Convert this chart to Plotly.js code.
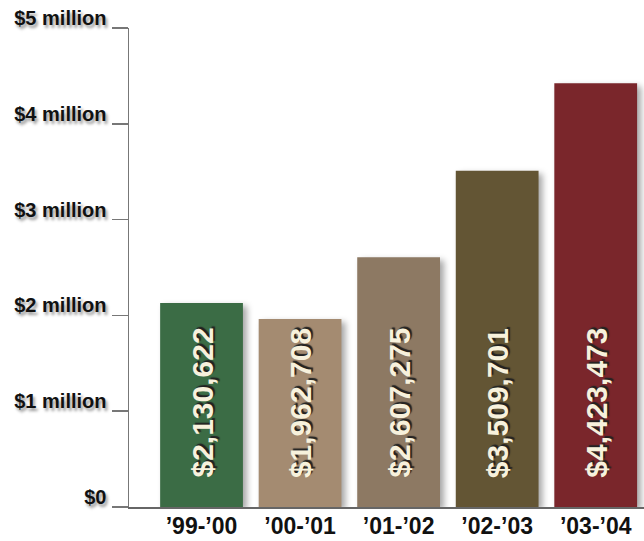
<!DOCTYPE html>
<html>
<head>
<meta charset="utf-8">
<script src="https://cdn.plot.ly/plotly-3.0.1.min.js"></script>
<style>
html,body{margin:0;padding:0;background:#fff;}
#chart{width:644px;height:541px;}
.trace.bars .point path{filter:drop-shadow(4px 3px 3px rgba(0,0,0,0.35));}
</style>
</head>
<body>
<div id="chart"></div>
<script>
const categories = ["\u201999-\u201900", "\u201900-\u201901", "\u201901-\u201902", "\u201902-\u201903", "\u201903-\u201904"];
const values = [2130622, 1962708, 2607275, 3509701, 4423473];
const barColors = ["#3b6c45", "#a48b71", "#8d7963", "#635534", "#7a262b"];
const yTickVals = [0, 1000000, 2000000, 3000000, 4000000, 5000000];
const yTickText = ["$0", "$1 million", "$2 million", "$3 million", "$4 million", "$5 million"];

const xPos = categories.map((c, i) => i);
const labels = values.map(v => "$" + v.toLocaleString("en-US"));

const trace = {
  type: "bar",
  x: xPos,
  y: values,
  width: 0.84,
  marker: {color: barColors, line: {width: 0}},
  hoverinfo: "none"
};

const annotations = values.map((v, i) => ({
  x: i, y: 0, xref: "x", yref: "y",
  text: labels[i],
  textangle: -90,
  showarrow: false,
  xanchor: "center", yanchor: "bottom",
  yshift: 27,
  font: {family: "Liberation Sans, Arial, sans-serif", size: 30, color: "#f7f1dc", weight: "bold",
         shadow: "2px 2px 1px #222"}
}));

const layout = {
  width: 644, height: 541,
  margin: {l: 129, r: 0, t: 28, b: 34},
  paper_bgcolor: "#ffffff",
  plot_bgcolor: "#ffffff",
  showlegend: false,
  xaxis: {
    range: [-0.736, 4.49],
    tickvals: xPos,
    ticktext: categories,
    showgrid: false, zeroline: false,
    showline: true, linecolor: "#666", linewidth: 1.5,
    ticks: "",
    ticklabelstandoff: -2,
    tickfont: {family: "Liberation Sans, Arial, sans-serif", size: 23, color: "#111", weight: "bold"},
    fixedrange: true
  },
  yaxis: {
    range: [0, 5000000],
    tickvals: yTickVals,
    ticktext: yTickText,
    showgrid: false, zeroline: false,
    showline: true, linecolor: "#777", linewidth: 1.5,
    ticks: "outside", ticklen: 16, tickcolor: "#777", tickwidth: 1.5,
    ticklabelstandoff: 1,
    ticklabelshift: -10,
    tickfont: {family: "Liberation Sans, Arial, sans-serif", size: 20, color: "#111", weight: "bold",
               shadow: "2px 3px 3px rgba(0,0,0,0.4)"},
    fixedrange: true
  },
  annotations: annotations
};

Plotly.newPlot("chart", [trace], layout, {displayModeBar: false, staticPlot: true});
</script>
</body>
</html>
